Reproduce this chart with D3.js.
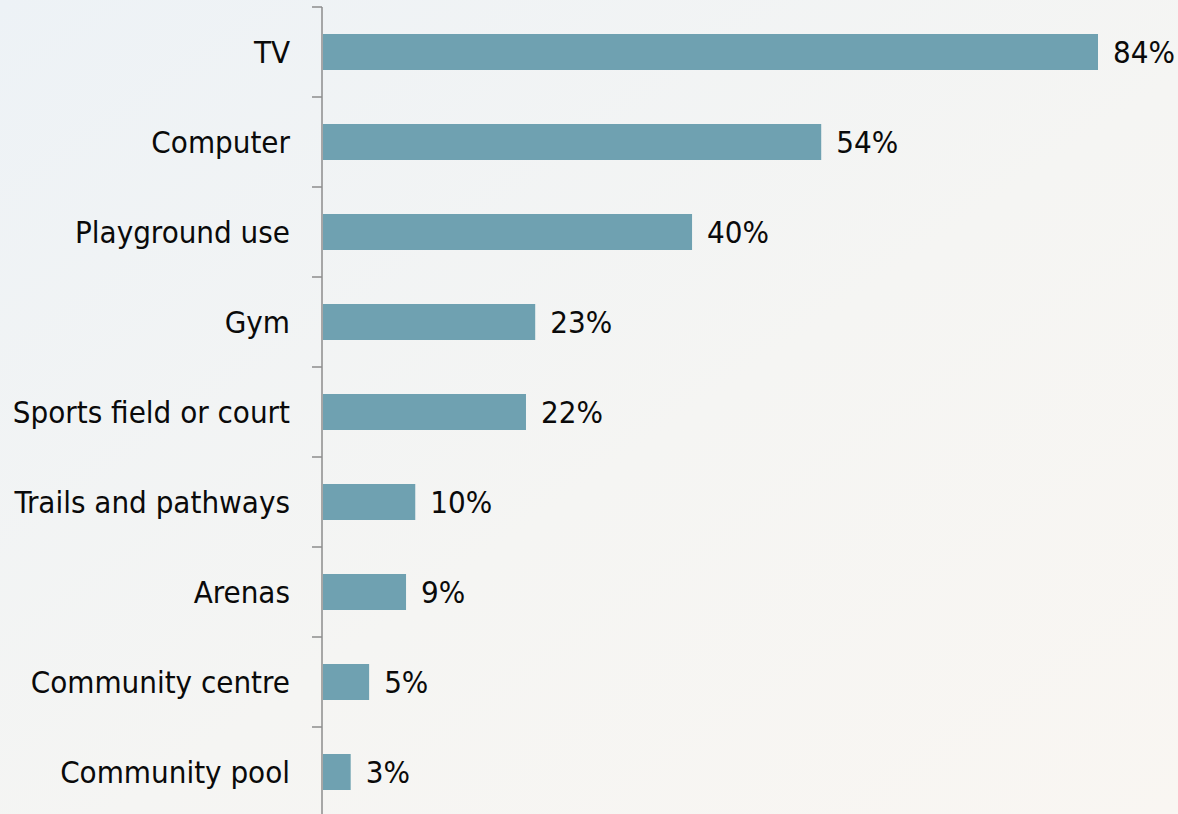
<!DOCTYPE html>
<html>
<head>
<meta charset="utf-8">
<script src="https://cdn.jsdelivr.net/npm/d3@7"></script>
<style>
html,body{margin:0;padding:0;}
body{width:1178px;height:814px;overflow:hidden;}
</style>
</head>
<body>
<script>
const categories = ["TV","Computer","Playground use","Gym","Sports field or court","Trails and pathways","Arenas","Community centre","Community pool"];
const values = [84,54,40,23,22,10,9,5,3];
const valueLabels = ["84%","54%","40%","23%","22%","10%","9%","5%","3%"];

const W = 1178, H = 814;
const axisX = 322;
const svg = d3.select("body").append("svg").attr("width", W).attr("height", H);

const defs = svg.append("defs");
const grad = defs.append("linearGradient").attr("id","bg").attr("x1","0").attr("y1","0").attr("x2","1").attr("y2","1");
grad.append("stop").attr("offset","0%").attr("stop-color","#edf2f6");
grad.append("stop").attr("offset","55%").attr("stop-color","#f5f5f3");
grad.append("stop").attr("offset","100%").attr("stop-color","#f9f6f2");
svg.append("rect").attr("width",W).attr("height",H).attr("fill","url(#bg)");

const font = "'DejaVu Sans Condensed','DejaVu Sans',sans-serif";
const fontSize = 31;

const y = d3.scaleBand().domain(categories).range([7, 817]).paddingInner(0.6).paddingOuter(0.3);
const x = d3.scaleLinear().domain([0, 84]).range([axisX + 1, 1098]);

const g = svg.append("g");
g.append("line").attr("x1",axisX).attr("x2",axisX).attr("y1",7).attr("y2",H+5)
  .attr("stroke","#8c8c8c").attr("stroke-width",1.5);
const boundaries = categories.map(c => y(c) - (y.step()-y.bandwidth())/2);
g.selectAll("line.tick").data(boundaries).join("line").attr("class","tick")
  .attr("x1",axisX-10).attr("x2",axisX).attr("y1",d=>d).attr("y2",d=>d)
  .attr("stroke","#8c8c8c").attr("stroke-width",1.5);

g.selectAll("text.cat").data(categories).join("text").attr("class","cat")
  .attr("x", 290).attr("y", d=> y(d)+y.bandwidth()/2).attr("dy","0.36em")
  .attr("text-anchor","end").attr("font-family",font).attr("font-size",fontSize).attr("fill","#0a0a0a")
  .text(d=>d);

svg.selectAll("rect.bar").data(values).join("rect").attr("class","bar")
  .attr("x", x(0)).attr("y",(d,i)=>y(categories[i]))
  .attr("width", d=> x(d)-x(0)).attr("height", y.bandwidth())
  .attr("fill","#6fa1b1");

svg.selectAll("text.val").data(values).join("text").attr("class","val")
  .attr("x", d=> x(d)+15).attr("y",(d,i)=> y(categories[i])+y.bandwidth()/2).attr("dy","0.36em")
  .attr("font-family",font).attr("font-size",fontSize).attr("fill","#0a0a0a")
  .text((d,i)=>valueLabels[i]);
</script>
</body>
</html>
